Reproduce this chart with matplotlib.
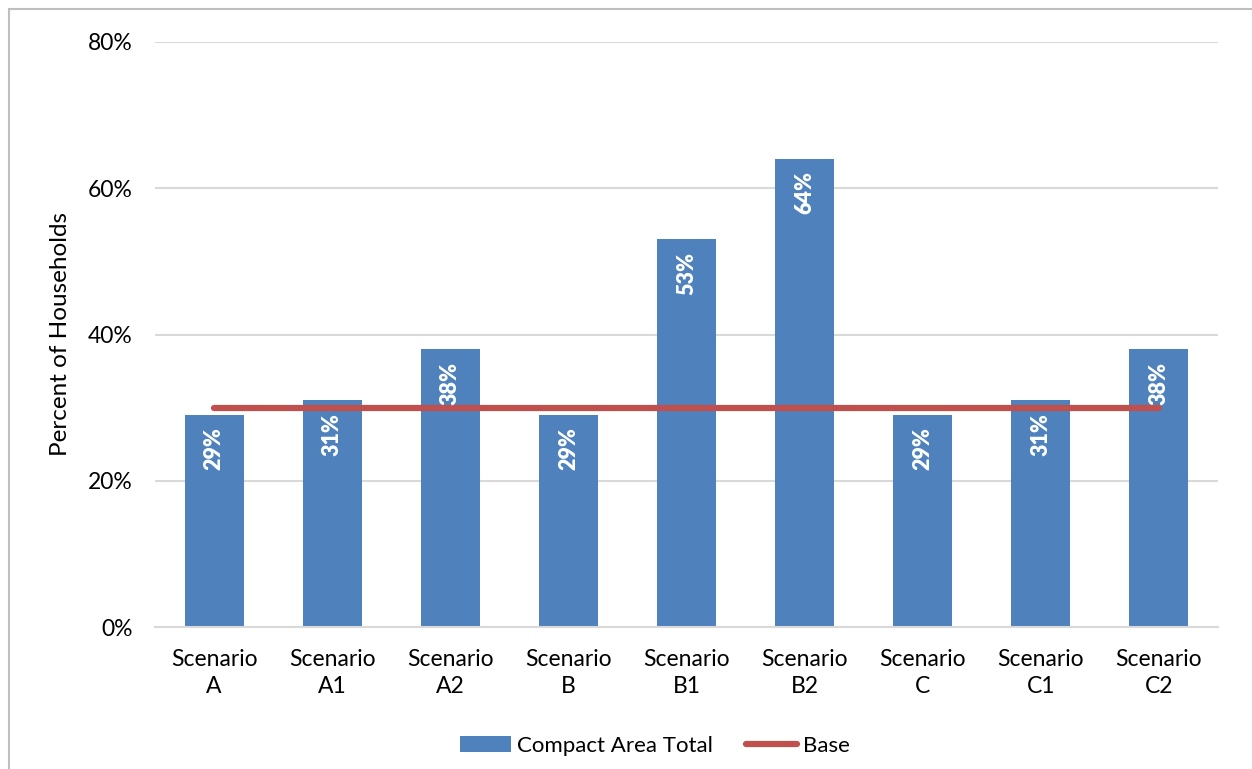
import matplotlib.pyplot as plt
from matplotlib.patches import Rectangle
from matplotlib.ticker import FuncFormatter

# Share of households in compact areas, per scenario
scenarios = ['Scenario\nA', 'Scenario\nA1', 'Scenario\nA2', 'Scenario\nB', 'Scenario\nB1',
             'Scenario\nB2', 'Scenario\nC', 'Scenario\nC1', 'Scenario\nC2']
compact_total = [29, 31, 38, 29, 53, 64, 29, 31, 38]
base = [30, 30, 30, 30, 30, 30, 30, 30, 30]

plt.rcParams['font.family'] = ['Lato', 'DejaVu Sans']

fig = plt.figure(figsize=(12.52, 7.69), dpi=100)
ax = fig.add_axes([155 / 1252, 1 - 627 / 769, (1218 - 155) / 1252, (627 - 42) / 769])

x = list(range(len(scenarios)))
bars = ax.bar(x, compact_total, width=0.5, color='#4F81BD', label='Compact Area Total', zorder=2)
line, = ax.plot(x, base, color='#C0504D', linewidth=4.5, solid_capstyle='round', label='Base', zorder=3)

# value labels, rotated, inside the top of each bar
for xi, v in zip(x, compact_total):
    ax.annotate(f'{v}%', (xi, v), xytext=(0, -9), textcoords='offset points',
                rotation=90, ha='center', va='top', color='white',
                fontsize=15.5, fontweight='heavy', zorder=4)

ax.set_xlim(-0.5, len(scenarios) - 0.5)
ax.set_ylim(0, 80)
ax.set_yticks([0, 20, 40, 60, 80])
ax.yaxis.set_major_formatter(FuncFormatter(lambda v, p: f'{v:.0f}%'))
ax.set_xticks(x)
ax.set_xticklabels(scenarios, fontsize=16.5, linespacing=1.35)
ax.tick_params(axis='y', labelsize=16.5, length=0, pad=16)
ax.tick_params(axis='x', length=0, pad=16)
ax.grid(axis='y', color='#D9D9D9', linewidth=1.5, zorder=0)
ax.set_axisbelow(True)
for s in ['top', 'right', 'left']:
    ax.spines[s].set_visible(False)
ax.spines['bottom'].set_color('#D9D9D9')
ax.spines['bottom'].set_linewidth(1.5)

ax.set_ylabel('Percent of Households', fontsize=17.5, labelpad=12)

ax.legend([bars, line], ['Compact Area Total', 'Base'], loc='center',
          bbox_to_anchor=(655 / 1252, (769 - 746) / 769), bbox_transform=fig.transFigure,
          ncol=2, frameon=False, fontsize=16, handlelength=2.3, handletextpad=0.25,
          columnspacing=1.5)

# chart border
fig.patches.append(Rectangle((9 / 1252, -0.1), 1.2, 1 - 9 / 769 + 0.1, transform=fig.transFigure,
                             fill=False, edgecolor='#BFBFBF', linewidth=1.5))

fig.savefig('out.png', dpi=100)
